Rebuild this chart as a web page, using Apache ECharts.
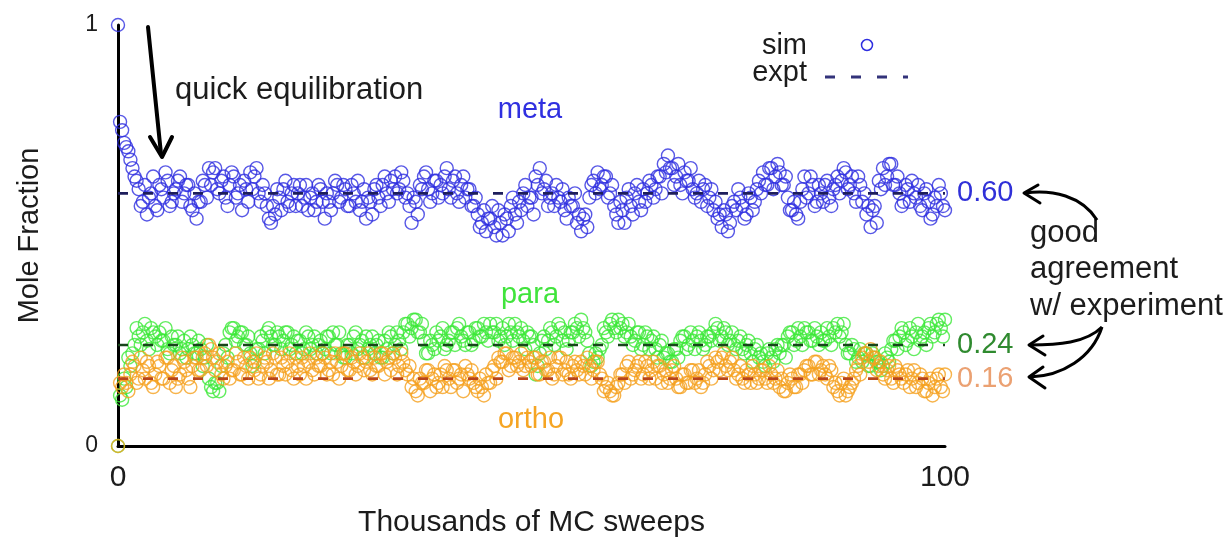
<!DOCTYPE html>
<html>
<head>
<meta charset="utf-8">
<script src="https://cdn.jsdelivr.net/npm/echarts@6/dist/echarts.min.js"></script>
<style>
html,body{margin:0;padding:0;background:#fff;}
#chart{width:1229px;height:542px;}
</style>
</head>
<body>
<div id="chart"></div>
<script>
// ---- data (mole fractions) ----
const SAMPLE_STEP = 0.5; // thousands of MC sweeps between samples of each array
// "...Sim" arrays are samples at 0, 0.5, 1.0 ...; "...Mid" arrays are samples at 0.25, 0.75, ...

const metaSim = [
  1.00, 0.75, 0.71, 0.68, 0.64, 0.61, 0.58, 0.55, 0.60, 0.57,
  0.62, 0.59, 0.63, 0.58, 0.61, 0.64, 0.60, 0.62, 0.56, 0.54,
  0.58, 0.62, 0.66, 0.65, 0.61, 0.63, 0.59, 0.62, 0.64, 0.60,
  0.56, 0.61, 0.65, 0.64, 0.60, 0.62, 0.57, 0.53, 0.55, 0.59,
  0.61, 0.58, 0.60, 0.57, 0.62, 0.59, 0.56, 0.60, 0.58, 0.61,
  0.54, 0.58, 0.60, 0.62, 0.59, 0.61, 0.57, 0.60, 0.63, 0.58,
  0.54, 0.58, 0.61, 0.59, 0.62, 0.60, 0.63, 0.64, 0.61, 0.63,
  0.60, 0.53, 0.58, 0.62, 0.64, 0.61, 0.60, 0.63, 0.62, 0.64,
  0.61, 0.63, 0.60, 0.62, 0.59, 0.61, 0.57, 0.55, 0.53, 0.51,
  0.54, 0.52, 0.56, 0.50, 0.54, 0.57, 0.55, 0.58, 0.60, 0.57,
  0.59, 0.64, 0.66, 0.61, 0.57, 0.60, 0.62, 0.58, 0.56, 0.59,
  0.57, 0.53, 0.51, 0.55, 0.59, 0.63, 0.65, 0.62, 0.64, 0.60,
  0.57, 0.53, 0.56, 0.59, 0.57, 0.60, 0.58, 0.61, 0.60, 0.62,
  0.61, 0.64, 0.67, 0.69, 0.66, 0.64, 0.62, 0.65, 0.63, 0.61,
  0.60, 0.58, 0.62, 0.59, 0.56, 0.54, 0.52, 0.55, 0.53, 0.58,
  0.61, 0.57, 0.55, 0.59, 0.58, 0.63, 0.65, 0.62, 0.66, 0.64,
  0.65, 0.62, 0.59, 0.56, 0.55, 0.58, 0.64, 0.60, 0.62, 0.58,
  0.60, 0.62, 0.59, 0.61, 0.64, 0.63, 0.65, 0.62, 0.60, 0.64,
  0.58, 0.55, 0.52, 0.57, 0.63, 0.66, 0.64, 0.67, 0.62, 0.60,
  0.58, 0.61, 0.63, 0.59, 0.57, 0.60, 0.58, 0.55, 0.57, 0.60, 0.56
];
const metaMid = [
  0.77, 0.72, 0.70, 0.66, 0.63, 0.57, 0.62, 0.59, 0.64, 0.56,
  0.61, 0.65, 0.57, 0.60, 0.63, 0.58, 0.62, 0.57, 0.60, 0.58,
  0.63, 0.59, 0.62, 0.66, 0.60, 0.64, 0.57, 0.65, 0.59, 0.62,
  0.63, 0.58, 0.61, 0.66, 0.58, 0.60, 0.54, 0.57, 0.61, 0.56,
  0.63, 0.57, 0.62, 0.60, 0.57, 0.62, 0.59, 0.56, 0.62, 0.58,
  0.60, 0.56, 0.63, 0.58, 0.62, 0.57, 0.62, 0.58, 0.56, 0.61,
  0.59, 0.55, 0.62, 0.57, 0.64, 0.58, 0.61, 0.60, 0.65, 0.59,
  0.57, 0.59, 0.55, 0.61, 0.65, 0.58, 0.63, 0.59, 0.60, 0.66,
  0.59, 0.64, 0.58, 0.64, 0.61, 0.57, 0.59, 0.52, 0.56, 0.54,
  0.57, 0.50, 0.53, 0.55, 0.51, 0.59, 0.53, 0.56, 0.62, 0.59,
  0.55, 0.62, 0.60, 0.63, 0.59, 0.57, 0.59, 0.61, 0.54, 0.57,
  0.60, 0.55, 0.54, 0.52, 0.62, 0.60, 0.61, 0.64, 0.59, 0.62,
  0.55, 0.58, 0.53, 0.61, 0.55, 0.62, 0.56, 0.58, 0.63, 0.59,
  0.64, 0.60, 0.65, 0.66, 0.62, 0.67, 0.60, 0.63, 0.66, 0.59,
  0.63, 0.61, 0.57, 0.61, 0.58, 0.55, 0.56, 0.51, 0.57, 0.56,
  0.59, 0.54, 0.60, 0.56, 0.61, 0.60, 0.62, 0.66, 0.61, 0.67,
  0.62, 0.64, 0.56, 0.58, 0.54, 0.61, 0.59, 0.64, 0.57, 0.62,
  0.58, 0.63, 0.57, 0.62, 0.60, 0.66, 0.61, 0.64, 0.58, 0.62,
  0.60, 0.57, 0.56, 0.53, 0.61, 0.62, 0.67, 0.62, 0.64, 0.57,
  0.62, 0.58, 0.60, 0.62, 0.56, 0.61, 0.54, 0.59, 0.62, 0.57
];

const paraSim = [
  0.00, 0.11, 0.14, 0.19, 0.24, 0.26, 0.27, 0.25, 0.28, 0.26,
  0.27, 0.25, 0.23, 0.26, 0.24, 0.22, 0.25, 0.23, 0.24, 0.22,
  0.23, 0.21, 0.16, 0.13, 0.15, 0.19, 0.24, 0.27, 0.28, 0.26,
  0.27, 0.24, 0.22, 0.20, 0.23, 0.25, 0.27, 0.26, 0.24, 0.26,
  0.25, 0.27, 0.24, 0.22, 0.25, 0.23, 0.26, 0.24, 0.22, 0.25,
  0.23, 0.26, 0.27, 0.24, 0.22, 0.21, 0.24, 0.26, 0.23, 0.25,
  0.26, 0.24, 0.22, 0.25, 0.21, 0.23, 0.26, 0.24, 0.25, 0.27,
  0.29, 0.28, 0.30, 0.27, 0.25, 0.22, 0.24, 0.27, 0.26, 0.23,
  0.25, 0.27, 0.28, 0.26, 0.24, 0.27, 0.25, 0.28, 0.26, 0.27,
  0.29, 0.27, 0.25, 0.28, 0.26, 0.27, 0.29, 0.26, 0.25, 0.27,
  0.26, 0.17, 0.22, 0.26, 0.25, 0.27, 0.26, 0.28, 0.27, 0.25,
  0.27, 0.28, 0.30, 0.27, 0.22, 0.20, 0.21, 0.24, 0.27, 0.29,
  0.28, 0.30, 0.29, 0.27, 0.26, 0.25, 0.27, 0.24, 0.26, 0.25,
  0.23, 0.24, 0.21, 0.22, 0.20, 0.23, 0.25, 0.26, 0.24, 0.25,
  0.26, 0.25, 0.24, 0.26, 0.27, 0.28, 0.26, 0.27, 0.25, 0.24,
  0.25, 0.23, 0.24, 0.22, 0.23, 0.21, 0.20, 0.22, 0.21, 0.23,
  0.22, 0.24, 0.26, 0.27, 0.25, 0.26, 0.28, 0.27, 0.25, 0.26,
  0.27, 0.25, 0.26, 0.28, 0.29, 0.27, 0.24, 0.22, 0.23, 0.21,
  0.20, 0.22, 0.19, 0.21, 0.20, 0.19, 0.21, 0.23, 0.25, 0.26,
  0.27, 0.25, 0.26, 0.27, 0.25, 0.27, 0.28, 0.26, 0.29, 0.28, 0.30
];
const paraMid = [
  0.12, 0.16, 0.21, 0.22, 0.28, 0.24, 0.29, 0.23, 0.27, 0.24,
  0.25, 0.28, 0.22, 0.24, 0.26, 0.23, 0.21, 0.26, 0.22, 0.25,
  0.19, 0.24, 0.14, 0.15, 0.13, 0.22, 0.21, 0.28, 0.25, 0.27,
  0.24, 0.26, 0.19, 0.23, 0.26, 0.22, 0.28, 0.24, 0.27, 0.23,
  0.27, 0.23, 0.26, 0.25, 0.22, 0.27, 0.23, 0.26, 0.24, 0.22,
  0.26, 0.22, 0.24, 0.27, 0.21, 0.24, 0.22, 0.27, 0.24, 0.21,
  0.23, 0.26, 0.24, 0.21, 0.25, 0.27, 0.22, 0.27, 0.23, 0.29,
  0.26, 0.30, 0.27, 0.29, 0.22, 0.25, 0.23, 0.25, 0.28, 0.24,
  0.27, 0.24, 0.29, 0.25, 0.27, 0.24, 0.28, 0.26, 0.29, 0.25,
  0.27, 0.29, 0.26, 0.24, 0.29, 0.25, 0.27, 0.28, 0.23, 0.26,
  0.24, 0.19, 0.25, 0.23, 0.28, 0.24, 0.29, 0.25, 0.23, 0.27,
  0.29, 0.26, 0.28, 0.25, 0.19, 0.22, 0.23, 0.28, 0.26, 0.30,
  0.27, 0.28, 0.26, 0.29, 0.24, 0.27, 0.23, 0.27, 0.23, 0.26,
  0.21, 0.25, 0.22, 0.20, 0.23, 0.21, 0.26, 0.23, 0.27, 0.23,
  0.27, 0.23, 0.26, 0.25, 0.29, 0.25, 0.28, 0.24, 0.27, 0.23,
  0.26, 0.22, 0.25, 0.20, 0.24, 0.22, 0.19, 0.23, 0.20, 0.24,
  0.24, 0.21, 0.27, 0.24, 0.28, 0.24, 0.27, 0.25, 0.28, 0.24,
  0.25, 0.28, 0.24, 0.27, 0.26, 0.29, 0.22, 0.24, 0.20, 0.23,
  0.22, 0.19, 0.22, 0.20, 0.18, 0.22, 0.20, 0.25, 0.23, 0.28,
  0.24, 0.28, 0.23, 0.29, 0.26, 0.24, 0.29, 0.27, 0.30, 0.26
];

const orthoSim = [
  0.00, 0.14, 0.15, 0.17, 0.19, 0.16, 0.18, 0.20, 0.15, 0.17,
  0.19, 0.16, 0.21, 0.18, 0.14, 0.17, 0.20, 0.16, 0.19, 0.21,
  0.18, 0.22, 0.24, 0.21, 0.20, 0.17, 0.19, 0.16, 0.18, 0.20,
  0.17, 0.19, 0.21, 0.18, 0.16, 0.19, 0.20, 0.18, 0.21, 0.17,
  0.19, 0.20, 0.18, 0.21, 0.17, 0.19, 0.20, 0.18, 0.21, 0.19,
  0.21, 0.18, 0.17, 0.20, 0.19, 0.22, 0.18, 0.20, 0.19, 0.21,
  0.20, 0.18, 0.21, 0.19, 0.22, 0.20, 0.18, 0.21, 0.19, 0.20,
  0.17, 0.14, 0.13, 0.16, 0.15, 0.18, 0.16, 0.14, 0.17, 0.19,
  0.16, 0.18, 0.15, 0.17, 0.19, 0.16, 0.15, 0.13, 0.14, 0.17,
  0.15, 0.19, 0.21, 0.20, 0.22, 0.19, 0.21, 0.20, 0.18, 0.21,
  0.19, 0.21, 0.17, 0.20, 0.18, 0.16, 0.19, 0.21, 0.18, 0.17,
  0.19, 0.18, 0.20, 0.17, 0.19, 0.18, 0.20, 0.16, 0.14, 0.13,
  0.12, 0.15, 0.17, 0.19, 0.16, 0.18, 0.20, 0.17, 0.19, 0.18,
  0.16, 0.19, 0.17, 0.15, 0.18, 0.16, 0.14, 0.17, 0.15, 0.18,
  0.16, 0.14, 0.17, 0.19, 0.18, 0.20, 0.21, 0.19, 0.20, 0.18,
  0.17, 0.16, 0.18, 0.15, 0.17, 0.16, 0.18, 0.15, 0.17, 0.16,
  0.14, 0.13, 0.15, 0.16, 0.14, 0.17, 0.18, 0.19, 0.17, 0.20,
  0.18, 0.17, 0.19, 0.14, 0.13, 0.15, 0.12, 0.14, 0.16, 0.19,
  0.21, 0.22, 0.23, 0.21, 0.19, 0.17, 0.18, 0.16, 0.19, 0.17,
  0.15, 0.18, 0.16, 0.14, 0.17, 0.13, 0.15, 0.12, 0.16, 0.14, 0.17
];
const orthoMid = [
  0.15, 0.17, 0.13, 0.20, 0.15, 0.21, 0.16, 0.19, 0.14, 0.20,
  0.16, 0.21, 0.15, 0.19, 0.16, 0.21, 0.18, 0.14, 0.21, 0.18,
  0.21, 0.19, 0.23, 0.18, 0.22, 0.16, 0.20, 0.18, 0.22, 0.17,
  0.21, 0.16, 0.20, 0.22, 0.17, 0.21, 0.16, 0.22, 0.17, 0.21,
  0.17, 0.22, 0.16, 0.19, 0.21, 0.16, 0.22, 0.17, 0.19, 0.22,
  0.17, 0.20, 0.22, 0.16, 0.22, 0.18, 0.21, 0.17, 0.22, 0.18,
  0.22, 0.17, 0.19, 0.22, 0.17, 0.21, 0.22, 0.17, 0.22, 0.18,
  0.19, 0.16, 0.12, 0.15, 0.18, 0.13, 0.17, 0.15, 0.14, 0.18,
  0.14, 0.18, 0.16, 0.13, 0.17, 0.18, 0.14, 0.16, 0.12, 0.15,
  0.18, 0.16, 0.20, 0.22, 0.18, 0.21, 0.19, 0.22, 0.19, 0.20,
  0.21, 0.17, 0.20, 0.18, 0.21, 0.17, 0.21, 0.17, 0.20, 0.16,
  0.20, 0.17, 0.19, 0.21, 0.16, 0.20, 0.17, 0.13, 0.15, 0.12,
  0.14, 0.17, 0.15, 0.20, 0.17, 0.19, 0.16, 0.20, 0.16, 0.20,
  0.19, 0.15, 0.18, 0.16, 0.19, 0.14, 0.17, 0.15, 0.18, 0.15,
  0.18, 0.15, 0.20, 0.16, 0.21, 0.18, 0.22, 0.18, 0.21, 0.16,
  0.19, 0.15, 0.17, 0.19, 0.15, 0.18, 0.16, 0.19, 0.15, 0.18,
  0.16, 0.13, 0.17, 0.14, 0.17, 0.15, 0.19, 0.17, 0.20, 0.17,
  0.19, 0.16, 0.18, 0.15, 0.12, 0.16, 0.13, 0.15, 0.18, 0.17,
  0.22, 0.20, 0.21, 0.18, 0.20, 0.16, 0.19, 0.15, 0.18, 0.16,
  0.17, 0.14, 0.18, 0.15, 0.16, 0.13, 0.16, 0.14, 0.17, 0.13
];

const exptNames  = ['meta', 'para', 'ortho'];
const exptValues = [0.60, 0.24, 0.16];
const xRange = [0, 100];
const yRange = [0, 1];

// ---- styles ----
const FONT = '"Liberation Sans", Arial, Helvetica, sans-serif';
const TXT = '#1c1c1c';
const simColors   = ['#2e2ee0', '#3ce838', '#f5a01e'];
const exptColors  = ['#1e1e5c', '#17451a', '#b8441a'];
const valueColors = ['#3030d8', '#2f8a2f', '#eba172'];
const nameColors  = ['#3030e0', '#40e43c', '#f5a524'];

function toPairs(main, mid) {
  const out = [];
  main.forEach((v, i) => {
    out.push([i * SAMPLE_STEP, v]);
    if (i < mid.length) out.push([i * SAMPLE_STEP + SAMPLE_STEP / 2, mid[i]]);
  });
  return out;
}

const simData = [[metaSim, metaMid], [paraSim, paraMid], [orthoSim, orthoMid]];

const series = [];
simData.forEach((pair, k) => {
  series.push({
    name: exptNames[k] + ' sim',
    type: 'scatter',
    data: toPairs(pair[0], pair[1]),
    symbol: 'circle',
    symbolSize: 13,
    clip: false,
    itemStyle: { color: 'rgba(0,0,0,0)', borderColor: simColors[k], borderWidth: 1.4 },
    emphasis: { disabled: true },
    z: 2
  });
});
exptValues.forEach((v, k) => {
  series.push({
    name: exptNames[k] + ' expt',
    type: 'line',
    data: xRange.map(x => [x, v]),
    symbol: 'none',
    lineStyle: { color: exptColors[k], width: 2.6, type: [10, 15] },
    endLabel: {
      show: true,
      distance: 12,
      formatter: p => p.value[1].toFixed(2),
      color: valueColors[k],
      fontSize: 29,
      fontFamily: FONT
    },
    emphasis: { disabled: true },
    z: 3
  });
});

function txt(x, y, s, color, align, size) {
  return { type: 'text', x: x, y: y, silent: true, z: 10,
    style: { text: s, fill: color || TXT, font: (size || 29) + 'px ' + FONT, textAlign: align || 'left', textVerticalAlign: 'middle' } };
}
function line(x1, y1, x2, y2, w) {
  return { type: 'line', silent: true, z: 10, shape: { x1, y1, x2, y2 },
    style: { stroke: '#000', lineWidth: w || 3, lineCap: 'round' } };
}
function chevron(points, w) {
  return { type: 'polyline', silent: true, z: 10, shape: { points },
    style: { stroke: '#000', fill: null, lineWidth: w || 3, lineJoin: 'round', lineCap: 'round' } };
}
function curve(x1, y1, cx1, cy1, cx2, cy2, x2, y2) {
  return { type: 'bezierCurve', silent: true, z: 10,
    shape: { x1, y1, cpx1: cx1, cpy1: cy1, cpx2: cx2, cpy2: cy2, x2, y2 },
    style: { stroke: '#000', fill: null, lineWidth: 3 } };
}

const chart = echarts.init(document.getElementById('chart'), null, { renderer: 'canvas' });
chart.setOption({
  animation: false,
  backgroundColor: '#fff',
  grid: { left: 118, right: 284, top: 25, bottom: 96, containLabel: false, outerBoundsMode: 'none' },
  xAxis: {
    type: 'value', min: xRange[0], max: xRange[1], interval: 100,
    axisLine: { show: true, lineStyle: { color: '#000', width: 3, cap: 'round' } },
    axisTick: { show: false }, splitLine: { show: false },
    axisLabel: { fontSize: 30, color: TXT, margin: 17, fontFamily: FONT },
    name: 'Thousands of MC sweeps', nameLocation: 'middle', nameGap: 62,
    nameTextStyle: { fontSize: 30, color: TXT, fontFamily: FONT }
  },
  yAxis: {
    type: 'value', min: yRange[0], max: yRange[1], interval: 1,
    axisLine: { show: true, lineStyle: { color: '#000', width: 3, cap: 'round' } },
    axisTick: { show: false }, splitLine: { show: false },
    axisLabel: { fontSize: 23, color: TXT, margin: 20, fontFamily: FONT },
    name: 'Mole Fraction', nameLocation: 'middle', nameGap: 74,
    nameTextStyle: { fontSize: 29, color: TXT, fontFamily: FONT }
  },
  series: series,
  graphic: [
    txt(175, 90, 'quick equilibration', TXT, 'left', 31),
    line(148, 27, 161, 154, 4),
    chevron([[150, 137], [162, 157], [172, 137]], 4),
    txt(530, 110, 'meta', nameColors[0], 'center'),
    txt(530, 295, 'para', nameColors[1], 'center'),
    txt(531, 420, 'ortho', nameColors[2], 'center'),
    txt(807, 46, 'sim', TXT, 'right'),
    txt(807, 73, 'expt', TXT, 'right'),
    { type: 'circle', silent: true, z: 10, shape: { cx: 867, cy: 45, r: 5.5 },
      style: { stroke: simColors[0], fill: null, lineWidth: 1.5 } },
    { type: 'line', silent: true, z: 10, shape: { x1: 825, y1: 77, x2: 908, y2: 77 },
      style: { stroke: '#33337a', lineWidth: 3, lineDash: [10, 16] } },
    txt(1030, 233, 'good', TXT, 'left', 31),
    txt(1030, 269, 'agreement', TXT, 'left', 31),
    txt(1030, 306, 'w/ experiment', TXT, 'left', 31),
    curve(1097, 220, 1082, 196, 1052, 189, 1025, 193),
    chevron([[1038, 185], [1024, 193], [1040, 203]]),
    curve(1102, 327, 1086, 343, 1058, 345, 1030, 345),
    chevron([[1043, 336], [1029, 345], [1045, 355]]),
    curve(1102, 327, 1092, 358, 1062, 376, 1030, 377),
    chevron([[1043, 367], [1029, 377], [1045, 388]])
  ]
});
</script>
</body>
</html>
